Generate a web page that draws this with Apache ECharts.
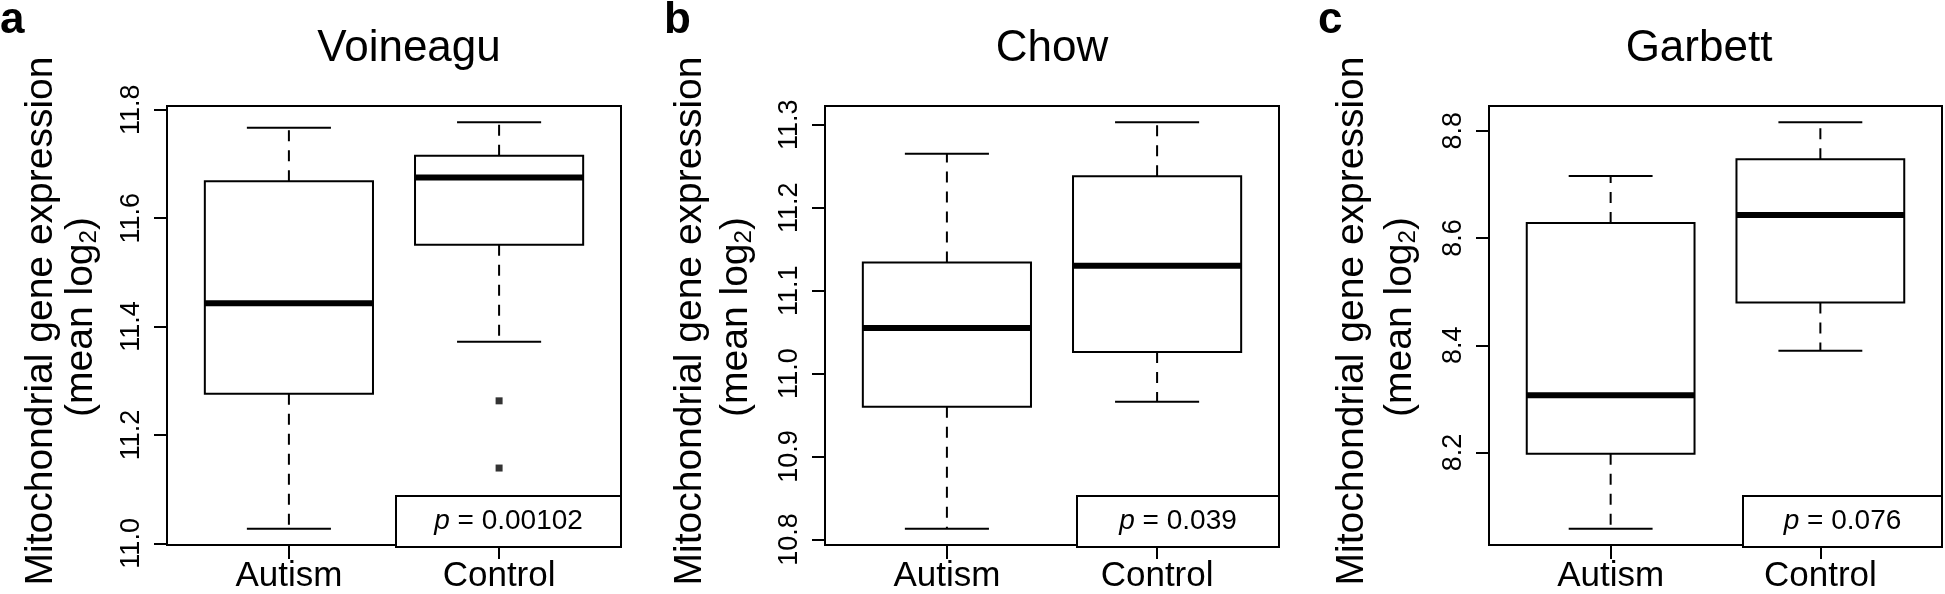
<!DOCTYPE html>
<html>
<head>
<meta charset="utf-8">
<script src="https://cdn.jsdelivr.net/npm/echarts@6/dist/echarts.min.js"></script>
<style>
  html, body { margin: 0; padding: 0; background: #fff; }
  #chart { width: 1945px; height: 594px; }
</style>
</head>
<body>
<div id="chart"></div>
<script>
// ---------- data ----------
const categories = ['Autism', 'Control'];
const panelTitles = ['Voineagu', 'Chow', 'Garbett'];
const panelLetters = ['a', 'b', 'c'];
const pValues = ['0.00102', '0.039', '0.076'];

// [lower whisker, Q1, median, Q3, upper whisker]
const voineaguAutism  = [11.027, 11.276, 11.443, 11.668, 11.767];
const voineaguControl = [11.372, 11.551, 11.675, 11.715, 11.777];
const voineaguControlOutliers = [11.263, 11.139];

const chowAutism  = [10.813, 10.960, 11.055, 11.134, 11.265];
const chowControl = [10.966, 11.026, 11.130, 11.238, 11.303];
const chowControlOutliers = [];

const garbettAutism  = [8.058, 8.198, 8.307, 8.628, 8.716];
const garbettControl = [8.390, 8.480, 8.643, 8.747, 8.816];
const garbettControlOutliers = [];

const voineaguTicks = [11.0, 11.2, 11.4, 11.6, 11.8];
const chowTicks = [10.8, 10.9, 11.0, 11.1, 11.2, 11.3];
const garbettTicks = [8.2, 8.4, 8.6, 8.8];

// ---------- layout ----------
const FONT = '"Liberation Sans", Arial, Helvetica, sans-serif';
const panels = [
  { autism: voineaguAutism, control: voineaguControl, outliers: voineaguControlOutliers, ticks: voineaguTicks,
    left: 167, width: 454, titleX: 409, letterX: 0, yt1: 41, yt2: 81, pbox: [396, 496, 225, 51] },
  { autism: chowAutism, control: chowControl, outliers: chowControlOutliers, ticks: chowTicks,
    left: 825, width: 454, titleX: 1052, letterX: 664, yt1: 690, yt2: 736, pbox: [1077, 496, 202, 51] },
  { autism: garbettAutism, control: garbettControl, outliers: garbettControlOutliers, ticks: garbettTicks,
    left: 1489, width: 453, titleX: 1699, letterX: 1318, yt1: 1352, yt2: 1400, pbox: [1743, 496, 199, 51] }
];
const GRID_TOP = 106, GRID_H = 441;

// R-style y-limits: data range extended by 4% on each side
function ylim(p) {
  const all = p.autism.concat(p.control, p.outliers);
  const lo = Math.min.apply(null, all), hi = Math.max.apply(null, all);
  const r = hi - lo;
  return [lo - 0.04 * r, hi + 0.04 * r];
}

function renderBox(params, api) {
  const x = api.value(0);
  const lo = api.value(1), q1 = api.value(2), med = api.value(3), q3 = api.value(4), hi = api.value(5);
  const c = (a, b) => api.coord([a, b]);
  const boxL = c(x - 0.4, q3), boxR = c(x + 0.4, q1);
  const dash = { stroke: '#000', lineWidth: 2, lineDash: [11, 9] };
  const solid = { stroke: '#000', lineWidth: 2 };
  const line = (p1, p2, style) => ({ type: 'line', shape: { x1: p1[0], y1: p1[1], x2: p2[0], y2: p2[1] }, style: style });
  return {
    type: 'group',
    children: [
      line(c(x, q3), c(x, hi), dash),
      line(c(x, q1), c(x, lo), dash),
      line(c(x - 0.2, hi), c(x + 0.2, hi), solid),
      line(c(x - 0.2, lo), c(x + 0.2, lo), solid),
      { type: 'rect', shape: { x: boxL[0], y: boxL[1], width: boxR[0] - boxL[0], height: boxR[1] - boxL[1] },
        style: { fill: '#fff', stroke: '#000', lineWidth: 2 } },
      line(c(x - 0.4, med), c(x + 0.4, med), { stroke: '#000', lineWidth: 6 })
    ]
  };
}

const option = {
  animation: false,
  backgroundColor: '#fff',
  title: [], grid: [], xAxis: [], yAxis: [], series: [], graphic: []
};

panels.forEach((p, i) => {
  const lim = ylim(p);
  option.title.push({
    text: panelTitles[i], left: p.titleX, top: 49, textAlign: 'center', textVerticalAlign: 'middle', padding: 0,
    textStyle: { fontFamily: FONT, fontSize: 44, fontWeight: 'normal', color: '#000' }
  });
  option.grid.push({
    left: p.left, top: GRID_TOP, width: p.width, height: GRID_H,
    show: true, borderColor: '#000', borderWidth: 2, backgroundColor: 'transparent'
  });
  option.xAxis.push({
    type: 'value', gridIndex: i, min: 0.42, max: 2.58,
    axisLine: { show: false }, splitLine: { show: false },
    axisTick: { show: true, customValues: [1, 2], length: 14, inside: false, lineStyle: { color: '#000', width: 2 } },
    axisLabel: { show: true, customValues: [1, 2], formatter: v => categories[Math.round(v) - 1],
      fontFamily: FONT, fontSize: 35, color: '#000', margin: 14 }
  });
  option.yAxis.push({
    type: 'value', gridIndex: i, min: lim[0], max: lim[1],
    axisLine: { show: false }, splitLine: { show: false },
    axisTick: { show: true, customValues: p.ticks, length: 13, inside: false, lineStyle: { color: '#000', width: 2 } },
    axisLabel: { show: true, customValues: p.ticks, rotate: 90, formatter: v => Number(v).toFixed(1),
      fontFamily: FONT, fontSize: 27, color: '#000', margin: 22 }
  });
  option.series.push({
    type: 'custom', xAxisIndex: i, yAxisIndex: i, clip: false,
    renderItem: renderBox,
    encode: { x: 0, y: [1, 2, 3, 4, 5] },
    data: [[1].concat(p.autism), [2].concat(p.control)]
  });
  option.series.push({
    type: 'scatter', xAxisIndex: i, yAxisIndex: i, symbol: 'rect', symbolSize: 7,
    itemStyle: { color: '#000' },
    data: p.outliers.map(v => [2, v])
  });
  // panel letter
  option.graphic.push({
    type: 'text', x: p.letterX, y: 21,
    style: { text: panelLetters[i], font: 'bold 44px ' + FONT, fill: '#000', align: 'left', verticalAlign: 'middle' }
  });
  // y-axis title (two lines)
  option.graphic.push({
    type: 'text', x: p.yt1, y: 321, rotation: Math.PI / 2,
    style: { text: 'Mitochondrial gene expression', font: '39px ' + FONT, fill: '#000', align: 'center', verticalAlign: 'middle' }
  });
  option.graphic.push({
    type: 'text', x: p.yt2, y: 317, rotation: Math.PI / 2,
    style: { text: '(mean log{sub|2})', font: '39px ' + FONT, fill: '#000', align: 'center', verticalAlign: 'middle',
      rich: { sub: { fontFamily: FONT, fontSize: 24, verticalAlign: 'bottom', padding: [16, 0, 0, 0] } } }
  });
  // p-value box
  option.graphic.push({
    type: 'rect', shape: { x: p.pbox[0], y: p.pbox[1], width: p.pbox[2], height: p.pbox[3] },
    style: { fill: '#fff', stroke: '#000', lineWidth: 2 }, z: 10
  });
  option.graphic.push({
    type: 'text', x: p.pbox[0] + p.pbox[2] / 2, y: p.pbox[1] + 25, z: 11,
    style: { text: '{i|p} = ' + pValues[i], font: '28px ' + FONT, fill: '#000', align: 'center', verticalAlign: 'middle',
      rich: { i: { fontFamily: FONT, fontSize: 28, fontStyle: 'italic' } } }
  });
});

const chart = echarts.init(document.getElementById('chart'), null, { renderer: 'canvas' });
chart.setOption(option);
</script>
</body>
</html>
